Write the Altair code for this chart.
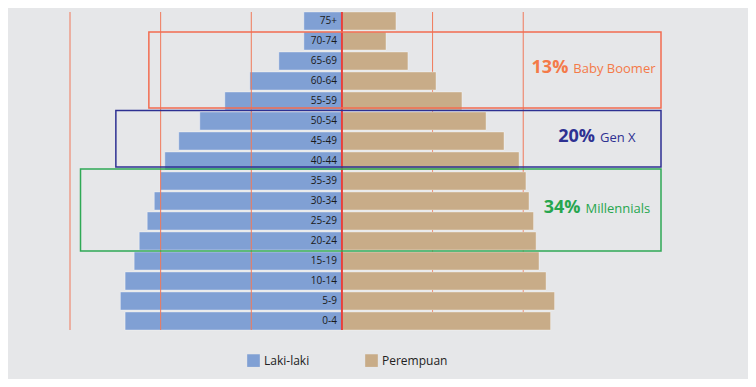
import altair as alt
import pandas as pd

# ---- data (millions) ----
ages = ["75+", "70-74", "65-69", "60-64", "55-59", "50-54", "45-49", "40-44",
        "35-39", "30-34", "25-29", "20-24", "15-19", "10-14", "5-9", "0-4"]
male = [2.10, 2.10, 3.48, 5.08, 6.46, 7.84, 9.00, 9.77,
        10.02, 10.35, 10.74, 11.18, 11.46, 11.96, 12.22, 11.96]
female = [2.98, 2.43, 3.64, 5.19, 6.62, 7.95, 8.94, 9.77,
          10.15, 10.32, 10.57, 10.71, 10.87, 11.26, 11.73, 11.51]
sexes = ["Laki-laki", "Perempuan"]

# generation annotation boxes (row index from top, x in data units)
gen_pct = ["13%", "20%", "34%"]
gen_name = ["Baby Boomer", "Gen X", "Millennials"]
gen_row_top = [1.0, 4.925, 7.85]
gen_row_bot = [4.8, 7.75, 11.95]
gen_x_left = [-10.65, -12.47, -14.42]
gen_x_right = [17.6, 17.6, 17.6]
gen_label_x = [12.6, 14.07, 13.27]
gen_colors = ["#f26c50", "#2e3192", "#2fa955"]
gen_text_colors = ["#f47a48", "#2e3192", "#27a64f"]

grid_left = [-15, -10, -5]
grid_right = [5, 10]

BLUE = "#80a0d4"
TAN = "#c8ac88"
GRID = "#f0795a"
FONT = "Open Sans"

rows = []
for a, m, f in zip(ages, male, female):
    rows.append({"age": a, "sex": sexes[0], "value": -m})
    rows.append({"age": a, "sex": sexes[1], "value": f})
df = pd.DataFrame(rows)
lab = pd.DataFrame({"age": ages, "zero": [0] * len(ages)})
gen = pd.DataFrame({
    "pct": gen_pct, "name": gen_name, "y1": gen_row_top, "y2": gen_row_bot,
    "x1": gen_x_left, "x2": gen_x_right, "lx": gen_label_x,
    "col": gen_colors, "tcol": gen_text_colors,
})

xscale = alt.Scale(domain=[-15, 17.6], nice=False, zero=False)
yband = alt.Y("age:N", sort=ages, axis=None,
              scale=alt.Scale(paddingInner=0.1, paddingOuter=0))

rules_r = alt.Chart(pd.DataFrame({"g": grid_right})).mark_rule(
    color=GRID, strokeWidth=1).encode(x=alt.X("g:Q", scale=xscale, axis=None))

bars = alt.Chart(df).mark_bar(stroke="#ffffff", strokeOpacity=0.35, strokeWidth=1).encode(
    x=alt.X("value:Q", scale=xscale, axis=None),
    y=yband,
    color=alt.Color("sex:N", scale=alt.Scale(domain=sexes, range=[BLUE, TAN]),
                    legend=alt.Legend(title=None, orient="none", legendX=177, legendY=342,
                                      direction="horizontal", symbolType="square",
                                      symbolSize=160, symbolStrokeWidth=0,
                                      labelFontSize=12, labelFont=FONT, labelColor="#222222",
                                      labelOffset=4, columnPadding=55, padding=0)),
)

rules_l = alt.Chart(pd.DataFrame({"g": grid_left})).mark_rule(
    color=GRID, strokeWidth=1).encode(x=alt.X("g:Q", scale=xscale, axis=None))

center = alt.Chart(pd.DataFrame({"g": [0]})).mark_rule(
    color="#e8403c", strokeWidth=2).encode(x=alt.X("g:Q", scale=xscale, axis=None))

labels = alt.Chart(lab).mark_text(align="right", baseline="middle", dx=-5,
                                  fontSize=10, font=FONT, color="#1a1a1a").encode(
    x=alt.X("zero:Q", scale=xscale, axis=None), y=yband, text="age:N")

base = alt.layer(rules_r, bars, rules_l, center, labels)

yq = alt.Scale(domain=[0, 15.9], reverse=True, nice=False, zero=False)
boxes = alt.Chart(gen).mark_rect(fill=None, strokeWidth=1.5).encode(
    x=alt.X("x1:Q", scale=xscale, axis=None), x2="x2:Q",
    y=alt.Y("y1:Q", scale=yq, axis=None), y2="y2:Q",
    stroke=alt.Stroke("col:N", scale=None),
)
pct = alt.Chart(gen).transform_calculate(ym="(datum.y1 + datum.y2) / 2").mark_text(
    align="right", baseline="alphabetic", dy=3, dx=-2, fontSize=18, fontWeight="bold", font=FONT).encode(
    x=alt.X("lx:Q", scale=xscale, axis=None), y=alt.Y("ym:Q", scale=yq, axis=None),
    text="pct:N", color=alt.Color("tcol:N", scale=None))
name = alt.Chart(gen).transform_calculate(ym="(datum.y1 + datum.y2) / 2").mark_text(
    align="left", baseline="alphabetic", dy=3, dx=3, fontSize=13, font=FONT).encode(
    x=alt.X("lx:Q", scale=xscale, axis=None), y=alt.Y("ym:Q", scale=yq, axis=None),
    text="name:N", color=alt.Color("tcol:N", scale=None))
ann = alt.layer(boxes, pct, name)

chart = alt.layer(base, ann).resolve_scale(y="independent", color="independent").properties(
    width=591, height=318,
    autosize=alt.AutoSizeParams(type="none"),
    padding={"left": 62, "top": 4, "right": 87, "bottom": 49},
    background="#e6e7e9",
).configure_view(strokeWidth=0)

chart.save("out.html", embed_options={"renderer": "svg", "actions": False})
